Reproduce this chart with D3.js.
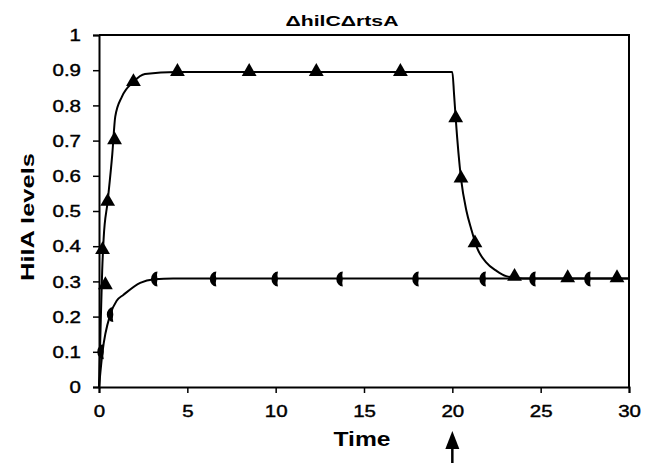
<!DOCTYPE html>
<html>
<head>
    <meta charset="utf-8">
    <title>HilA levels</title>
    <script src="https://d3js.org/d3.v7.min.js"></script>
    <style>
        body { margin: 0; background: #fff; }
        text { font-family: Arial, "Liberation Sans", sans-serif; }
    </style>
</head>
<body>
    <script>
        // curve with triangle markers (switch off at t = 20)
        const curveA_t = [0, 0.08, 0.18, 0.26, 0.49, 0.75, 0.92, 1.3, 1.95, 2.6, 4.4, 20, 20.1, 20.19, 20.49, 20.8, 21.08, 21.4, 21.9, 22.5, 23.05, 24, 30];
        const curveA_v = [0, 0.15, 0.33, 0.42, 0.527, 0.66, 0.768, 0.825, 0.867, 0.889, 0.895, 0.895, 0.83, 0.764, 0.593, 0.5, 0.447, 0.395, 0.355, 0.33, 0.315, 0.308, 0.308];
        const triA_t = [0.2, 0.36, 0.49, 0.88, 1.95, 4.44, 8.5, 12.3, 17.06, 20.19, 20.49, 21.28, 23.52, 26.53, 29.32];
        const triA_v = [0.39, 0.29, 0.527, 0.702, 0.867, 0.896, 0.896, 0.896, 0.896, 0.764, 0.593, 0.409, 0.314, 0.31, 0.31];

        // curve with half-circle markers
        const curveB_t = [0, 0.2, 0.64, 1.0, 1.39, 2.33, 3.14, 4.2, 30];
        const curveB_v = [0, 0.1, 0.206, 0.245, 0.262, 0.296, 0.306, 0.308, 0.308];
        const semiB_t = [0.1, 0.64, 3.14, 6.47, 9.96, 13.63, 17.93, 21.73, 24.55, 27.66];
        const semiB_v = [0.1, 0.206, 0.307, 0.307, 0.307, 0.307, 0.307, 0.307, 0.307, 0.307];

        const xTicks = [0, 5, 10, 15, 20, 25, 30];
        const yTicks = [0, 0.1, 0.2, 0.3, 0.4, 0.5, 0.6, 0.7, 0.8, 0.9, 1];

        const width = 649, height = 463;
        const margin = { top: 35, right: 20, bottom: 76, left: 99 };

        const svg = d3.select("body").append("svg")
            .attr("width", width)
            .attr("height", height);

        const x = d3.scaleLinear().domain([0, 30]).range([margin.left, width - margin.right]);
        const y = d3.scaleLinear().domain([0, 1]).range([height - margin.bottom, margin.top]);

        // the original font is wide, stretch text horizontally
        function widen(sel, k) {
            sel.each(function() {
                const len = this.getComputedTextLength();
                d3.select(this)
                    .attr("textLength", len * k)
                    .attr("lengthAdjust", "spacingAndGlyphs");
            });
        }

        // frame (top + right)
        svg.append("path")
            .attr("d", `M${x(0)},${y(1)}H${x(30)}V${y(0)}`)
            .attr("fill", "none").attr("stroke", "#000").attr("stroke-width", 2);

        // axes
        const xAxis = svg.append("g")
            .attr("transform", `translate(0,${y(0)})`)
            .call(d3.axisBottom(x).tickValues(xTicks).tickSize(6).tickPadding(13).tickFormat(d3.format("d")));
        const yAxis = svg.append("g")
            .attr("transform", `translate(${x(0)},0)`)
            .call(d3.axisLeft(y).tickValues(yTicks).tickSize(6).tickPadding(12).tickFormat(d => d === 0 || d === 1 ? d : d.toFixed(1)));

        [xAxis, yAxis].forEach(g => {
            g.select(".domain").attr("stroke-width", 2);
            g.selectAll(".tick line").attr("stroke-width", 1.5);
            g.selectAll("text")
                .attr("font-size", 16)
                .attr("font-family", "Arial, 'Liberation Sans', sans-serif")
                .attr("fill", "#000")
                .attr("stroke", "#000")
                .attr("stroke-width", 0.4);
            widen(g.selectAll("text"), 1.28);
        });
        yAxis.selectAll("text").attr("dy", "0.36em");

        // curves
        const line = d3.line()
            .x(d => x(d[0]))
            .y(d => y(d[1]))
            .curve(d3.curveMonotoneX);

        svg.append("path")
            .datum(curveA_t.map((t, i) => [t, curveA_v[i]]))
            .attr("d", line)
            .attr("fill", "none").attr("stroke", "#000").attr("stroke-width", 2);

        svg.append("path")
            .datum(curveB_t.map((t, i) => [t, curveB_v[i]]))
            .attr("d", line)
            .attr("fill", "none").attr("stroke", "#000").attr("stroke-width", 2);

        // half-circle markers (left half filled)
        svg.selectAll(".semi")
            .data(semiB_t.map((t, i) => [t, semiB_v[i]]))
            .enter().append("path")
            .attr("class", "semi")
            .attr("transform", d => `translate(${x(d[0])},${y(d[1])})`)
            .attr("d", "M3,-7.5 A6.5,7.5 0 0 0 3,7.5 L2.5,4 L3,0 L2.5,-4 Z")
            .attr("fill", "#000");

        // triangle markers
        svg.selectAll(".tri")
            .data(triA_t.map((t, i) => [t, triA_v[i]]))
            .enter().append("path")
            .attr("class", "tri")
            .attr("transform", d => `translate(${x(d[0])},${y(d[1])})`)
            .attr("d", d3.symbol(d3.symbolTriangle, 95))
            .attr("fill", "#000");

        // title
        svg.append("text")
            .attr("x", 342)
            .attr("y", 26)
            .attr("text-anchor", "middle")
            .attr("font-size", 15)
            .attr("font-weight", "bold")
            .text("ΔhilCΔrtsA")
            .attr("textLength", 113)
            .attr("lengthAdjust", "spacingAndGlyphs");

        // axis titles
        svg.append("text")
            .attr("x", 362)
            .attr("y", 446)
            .attr("text-anchor", "middle")
            .attr("font-size", 20)
            .attr("font-weight", "bold")
            .text("Time")
            .attr("textLength", 57)
            .attr("lengthAdjust", "spacingAndGlyphs");

        svg.append("text")
            .attr("transform", "translate(34,217) rotate(-90)")
            .attr("text-anchor", "middle")
            .attr("font-size", 18)
            .attr("font-weight", "bold")
            .text("HilA levels")
            .attr("textLength", 128)
            .attr("lengthAdjust", "spacingAndGlyphs");

        // arrow under t = 20
        svg.append("line")
            .attr("x1", x(20)).attr("x2", x(20))
            .attr("y1", 445).attr("y2", height)
            .attr("stroke", "#000").attr("stroke-width", 2.5);
        svg.append("path")
            .attr("d", `M${x(20)},431 L${x(20) - 7},449 L${x(20) + 7},449 Z`)
            .attr("fill", "#000");
    </script>
</body>
</html>
